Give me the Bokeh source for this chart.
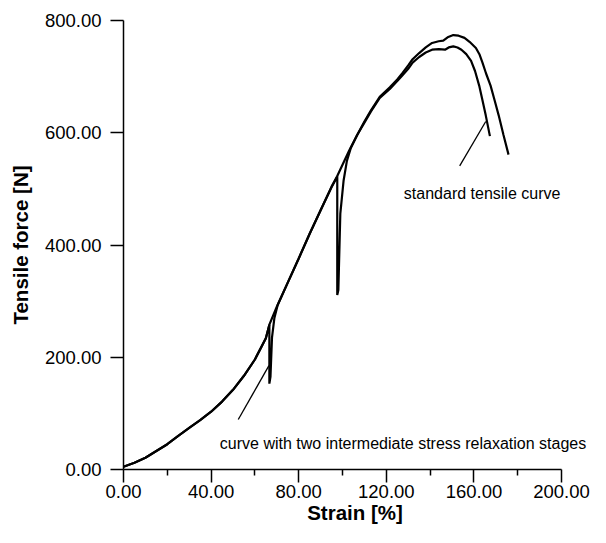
from bokeh.plotting import figure
from bokeh.models import Range1d, FixedTicker, PrintfTickFormatter, Label
from bokeh.embed import file_html
from bokeh.resources import INLINE

# ---- data ----
std_x = [0, 5, 10, 15, 20, 25, 30, 35, 40, 45, 50, 55, 60, 65, 66.6, 70, 75, 80, 85, 90,
         95, 97.5, 100, 103, 106.7, 110, 113, 117, 121.6, 125, 127.5, 130, 132, 135, 138,
         140.9, 143.9, 146, 148, 150.6, 153, 155.7, 158, 160.9, 162.5, 163.9, 165.5, 167.6,
         169.5, 171.3, 173.5, 175.8]
std_y = [5, 12, 21, 33, 45, 60, 74, 88, 103, 121, 142, 167, 196, 234, 258, 290, 333, 376, 420, 462,
         504, 522, 543, 568, 596, 620, 640, 664, 681, 695, 707, 720, 731, 742, 752,
         760, 763, 764, 770, 774, 773, 769, 762, 751, 740, 725, 706, 684,
         657, 631, 596, 561]

rel_x = [0, 5, 10, 15, 20, 25, 30, 35, 40, 45, 50, 55, 60, 65, 66.6, 66.6, 67.1, 67.5, 67.8,
         68.9, 70.4, 75, 80, 85, 90, 95, 97.6, 97.6, 98.1, 99.0, 100.5, 102, 103.8, 106.7,
         110, 113, 117, 121.6, 125, 127.5, 130, 132, 135, 138, 140.9, 144, 146.8, 148.5,
         150.6, 152.5, 154.3, 156.5, 158.7, 160.5, 162.4, 164, 165.4, 167.3]
rel_y = [5, 12, 21, 33, 45, 60, 74, 88, 103, 121, 142, 167, 196, 234, 258, 153, 165, 205, 235,
         270, 293, 333, 376, 420, 462, 503, 522, 311, 320, 456, 515, 550, 573, 596,
         618, 638, 662, 678, 692, 703, 714, 725, 735, 743, 748, 749, 748, 752,
         754, 752, 748, 740, 728, 710, 684, 656, 631, 594]

ann_rel_x = [52.4, 66.4]
ann_rel_y = [89, 185]
ann_std_x = [153.5, 165.4]
ann_std_y = [541, 620]

label_x = [128.0, 44.0]
label_y = [492, 47]
label_text = ["standard tensile curve", "curve with two intermediate stress relaxation stages"]

x_ticks = [0, 40, 80, 120, 160, 200]
x_minor = [20, 60, 100, 140, 180]
y_ticks = [0, 200, 400, 600, 800]

FONT = "Liberation Sans"

# the frame runs a little past 200 so the long caption is not clipped;
# the x axis itself is bounded to 0..200
p = figure(width=590, height=527, x_range=Range1d(0, 211.4), y_range=Range1d(0, 800),
           output_backend="svg", toolbar_location=None,
           min_border_left=123, min_border_right=4, min_border_top=20, min_border_bottom=58)
p.grid.visible = False
p.outline_line_color = None
p.background_fill_color = "white"
p.border_fill_color = "white"

p.xaxis.bounds = (0, 200)
p.xaxis.ticker = FixedTicker(ticks=x_ticks, minor_ticks=x_minor)
p.yaxis.ticker = FixedTicker(ticks=y_ticks, minor_ticks=[])
p.xaxis.formatter = PrintfTickFormatter(format="%.2f")
p.yaxis.formatter = PrintfTickFormatter(format="%.2f")

for ax in (p.xaxis, p.yaxis):
    ax.axis_line_color = "black"
    ax.axis_line_width = 1.5
    ax.major_tick_line_color = "black"
    ax.major_tick_line_width = 1.5
    ax.minor_tick_line_color = "black"
    ax.minor_tick_line_width = 1.5
    ax.major_tick_in = 0
    ax.major_tick_out = 13
    ax.minor_tick_in = 0
    ax.major_label_text_font = FONT
    ax.major_label_text_font_size = "18.5px"
    ax.major_label_text_color = "black"
    ax.axis_label_text_font = FONT
    ax.axis_label_text_font_size = "20.5px"
    ax.axis_label_text_font_style = "bold"
    ax.axis_label_text_color = "black"

p.xaxis.minor_tick_out = 6
p.yaxis.minor_tick_out = 0
p.xaxis.major_label_standoff = 2
p.yaxis.major_label_standoff = 9
p.xaxis.axis_label = "Strain [%]"
p.yaxis.axis_label = "Tensile force [N]"
p.xaxis.axis_label_standoff = 0
p.yaxis.axis_label_standoff = 10

p.line(std_x, std_y, line_color="black", line_width=2.2)
p.line(rel_x, rel_y, line_color="black", line_width=2.2)
p.line(ann_rel_x, ann_rel_y, line_color="black", line_width=1.3)
p.line(ann_std_x, ann_std_y, line_color="black", line_width=1.3)

for lx, ly, lt in zip(label_x, label_y, label_text):
    p.add_layout(Label(x=lx, y=ly, text=lt, text_font=FONT, text_font_size="16px",
                       text_color="black", text_align="left", text_baseline="middle"))

open("out.html", "w").write(file_html(p, INLINE))
